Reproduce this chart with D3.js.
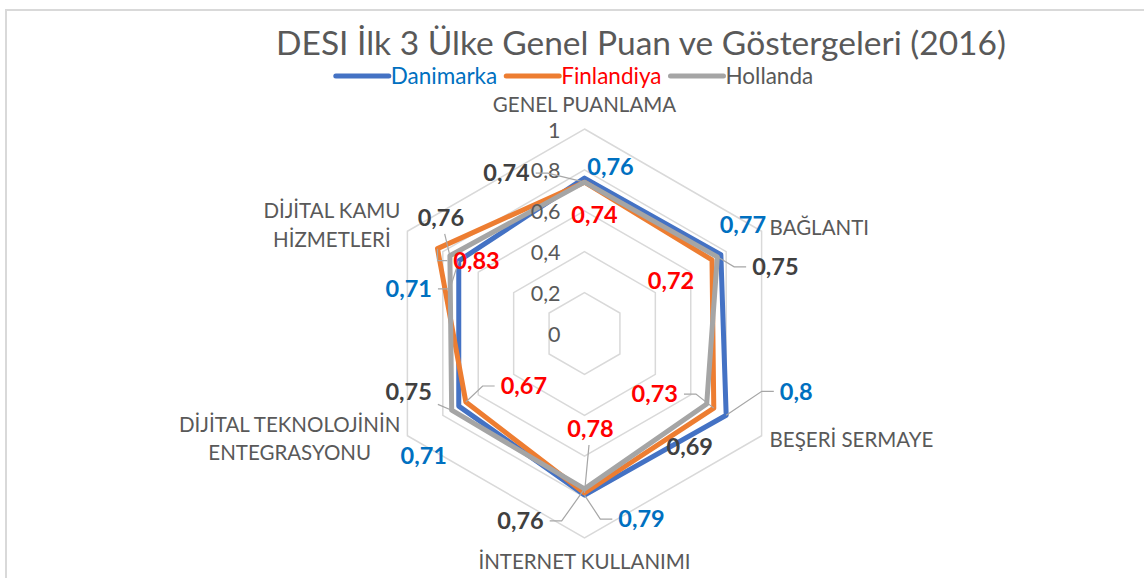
<!DOCTYPE html>
<html>
<head>
<meta charset="utf-8">
<script src="https://cdn.jsdelivr.net/npm/d3@7"></script>
<style>
  body { margin: 0; background: #fff; }
  svg { display: block; font-family: "Lato", "Open Sans", sans-serif; }
</style>
</head>
<body>
<svg id="chart" width="1144" height="578"></svg>
<script>
// ---- data ----
const title = "DESI İlk 3 Ülke Genel Puan ve Göstergeleri (2016)";
const categories = ["GENEL PUANLAMA", "BAĞLANTI", "BEŞERİ SERMAYE", "İNTERNET KULLANIMI",
                    "DİJİTAL TEKNOLOJİNİN ENTEGRASYONU", "DİJİTAL KAMU HİZMETLERİ"];
const seriesNames = ["Danimarka", "Finlandiya", "Hollanda"];
const danimarka  = [0.76, 0.77, 0.80, 0.79, 0.71, 0.71];
const finlandiya = [0.74, 0.72, 0.73, 0.78, 0.67, 0.83];
const hollanda   = [0.74, 0.75, 0.69, 0.76, 0.75, 0.76];
const tickValues = [0, 0.2, 0.4, 0.6, 0.8, 1];

// ---- styling / layout ----
const lineColors  = ["#4472C4", "#ED7D31", "#A5A5A5"];
const labelColors = ["#0070C0", "#FF0000", "#404040"];
const legendTextColors = ["#0070C0", "#FF0000", "#595959"];
const textGray = "#595959";

// data label offsets from their point [dx, dy, leader]  (leader: 0 none, "h" elbow, "d" direct)
const labelLayout = [
  [[26, -11, 0], [22, -30, 0], [70, -24, "h"], [57, 24, "h"], [-35, 50, 0], [-50, 28, "h"]],
  [[10, 33, 0], [-41, 21, 0], [-59, -14, "h"], [6, -64, "d"], [58, -16, "h"], [39, 12, "h"]],
  [[-78, -9, "h"], [58, 10, "h"], [-17, 43, 0], [-64, 32, "h"], [-43, -18, "d"], [-9, -38, "d"]]
];

const W = 1144, H = 578;
const cx = 584.5, cy = 333.5, R = 204.5;
const fmt = v => String(+v.toFixed(2)).replace(".", ",");

const svg = d3.select("#chart");

// chart area border
svg.append("rect")
  .attr("x", 6).attr("y", 10).attr("width", W + 20).attr("height", H + 20)
  .attr("fill", "#fff").attr("stroke", "#D9D9D9").attr("stroke-width", 2);

// title
svg.append("text")
  .attr("x", 641).attr("y", 55)
  .attr("text-anchor", "middle")
  .attr("fill", textGray)
  .style("font-size", "33.5px")
  .text(title);

// legend
const series = [danimarka, finlandiya, hollanda];
const legend = svg.append("g");
let lx = 0;
seriesNames.forEach((name, i) => {
  const g = legend.append("g").attr("transform", `translate(${lx},0)`);
  g.append("line").attr("x1", 2).attr("x2", 55).attr("y1", 0).attr("y2", 0)
    .attr("stroke", lineColors[i]).attr("stroke-width", 5).attr("stroke-linecap", "round");
  const t = g.append("text").attr("x", 57).attr("y", 0).attr("dy", "0.35em")
    .attr("fill", legendTextColors[i]).style("font-size", "22.5px").text(name);
  lx += 57 + t.node().getComputedTextLength() + 7;
});
const legendW = lx - 7;
legend.attr("transform", `translate(${573.5 - legendW / 2},76)`);

// radial scales
const rScale = d3.scaleLinear().domain([0, 1]).range([0, R]);
const aScale = d3.scaleLinear().domain([0, categories.length]).range([0, 2 * Math.PI]);
const pt = (i, v) => [cx + rScale(v) * Math.sin(aScale(i)), cy - rScale(v) * Math.cos(aScale(i))];

const plot = svg.append("g").attr("transform", `translate(${cx},${cy})`);

// grid hexagons
const gridLine = d3.lineRadial()
  .angle((d, i) => aScale(i))
  .radius(d => rScale(d))
  .curve(d3.curveLinearClosed);
plot.selectAll("path.grid")
  .data(tickValues.filter(t => t > 0))
  .join("path")
  .attr("class", "grid")
  .attr("d", t => gridLine(categories.map(() => t)))
  .attr("fill", "none")
  .attr("stroke", "#D9D9D9")
  .attr("stroke-width", 1.5);

// value axis labels
svg.selectAll("text.tick")
  .data(tickValues)
  .join("text")
  .attr("class", "tick")
  .attr("x", cx - 24)
  .attr("y", t => cy - rScale(t) + 1)
  .attr("dy", "0.35em")
  .attr("text-anchor", "end")
  .attr("fill", textGray)
  .style("font-size", "21.5px")
  .text(fmt);

// category labels
const catFont = 20.5, catLine = 28.5, wrapMax = 235;
categories.forEach((c, i) => {
  const a = aScale(i);
  const [vx, vy] = pt(i, 1);
  const sx = Math.sin(a), sy = -Math.cos(a);
  const t = svg.append("text").attr("fill", textGray).style("font-size", catFont + "px");
  // greedy word wrap
  const words = c.split(" ");
  const lines = [];
  let cur = "";
  const probe = svg.append("text").style("font-size", catFont + "px");
  words.forEach(w => {
    const test = cur ? cur + " " + w : w;
    probe.text(test);
    if (cur && probe.node().getComputedTextLength() > wrapMax) { lines.push(cur); cur = w; }
    else cur = test;
  });
  lines.push(cur);
  const widths = lines.map(l => { probe.text(l); return probe.node().getComputedTextLength(); });
  probe.remove();
  const blockW = d3.max(widths);
  let x, anchor, yc;
  if (Math.abs(sx) < 0.01) {
    x = vx; anchor = "middle";
    yc = sy < 0 ? vy - 24 : vy + 24;
  } else if (sx > 0) {
    x = vx + 8; anchor = "start";
    yc = vy + (sy < 0 ? -3 : 4);
  } else {
    x = vx - 7 - blockW / 2; anchor = "middle";
    yc = vy + (sy < 0 ? -6 : 3);
  }
  const y0 = yc - (lines.length - 1) * catLine / 2;
  t.attr("text-anchor", anchor);
  lines.forEach((l, k) => {
    t.append("tspan").attr("x", x).attr("y", y0 + k * catLine).attr("dy", "0.35em").text(l);
  });
});

// series polygons
const seriesLine = d3.lineRadial()
  .angle((d, i) => aScale(i))
  .radius(d => rScale(d))
  .curve(d3.curveLinearClosed);
plot.selectAll("path.series")
  .data(series)
  .join("path")
  .attr("class", "series")
  .attr("d", d => seriesLine(d))
  .attr("fill", "none")
  .attr("stroke", (d, i) => lineColors[i])
  .attr("stroke-width", 5)
  .attr("stroke-linejoin", "round");

// data labels with leader lines
const leaders = svg.append("g");
const labels = svg.append("g");
series.forEach((vals, s) => {
  vals.forEach((v, i) => {
    const [px, py] = pt(i, v);
    const [dx, dy, mode] = labelLayout[s][i];
    const lxc = px + dx, lyc = py + dy;
    const t = labels.append("text")
      .attr("x", lxc).attr("y", lyc).attr("dy", "0.35em")
      .attr("text-anchor", "middle")
      .attr("fill", labelColors[s])
      .style("font-size", "23.5px").style("font-weight", "bold")
      .text(fmt(v));
    if (!mode) return;
    const hw = t.node().getComputedTextLength() / 2;
    let pts;
    if (mode === "h") {
      const dir = Math.sign(px - lxc);
      const sx0 = lxc + dir * (hw + 6);
      let sx1 = sx0 + dir * 12;
      if ((px - sx1) * dir < 0) sx1 = px;
      pts = [[sx0, lyc], [sx1, lyc], [px, py]];
    } else {
      const ddx = px - lxc, ddy = py - lyc;
      const tt = Math.min((hw + 6) / Math.abs(ddx || 1e-6), 16 / Math.abs(ddy || 1e-6));
      pts = [[lxc + ddx * tt, lyc + ddy * tt], [px, py]];
    }
    leaders.append("path")
      .attr("d", d3.line()(pts))
      .attr("fill", "none")
      .attr("stroke", "#A6A6A6")
      .attr("stroke-width", 1.2);
  });
});
</script>
</body>
</html>
